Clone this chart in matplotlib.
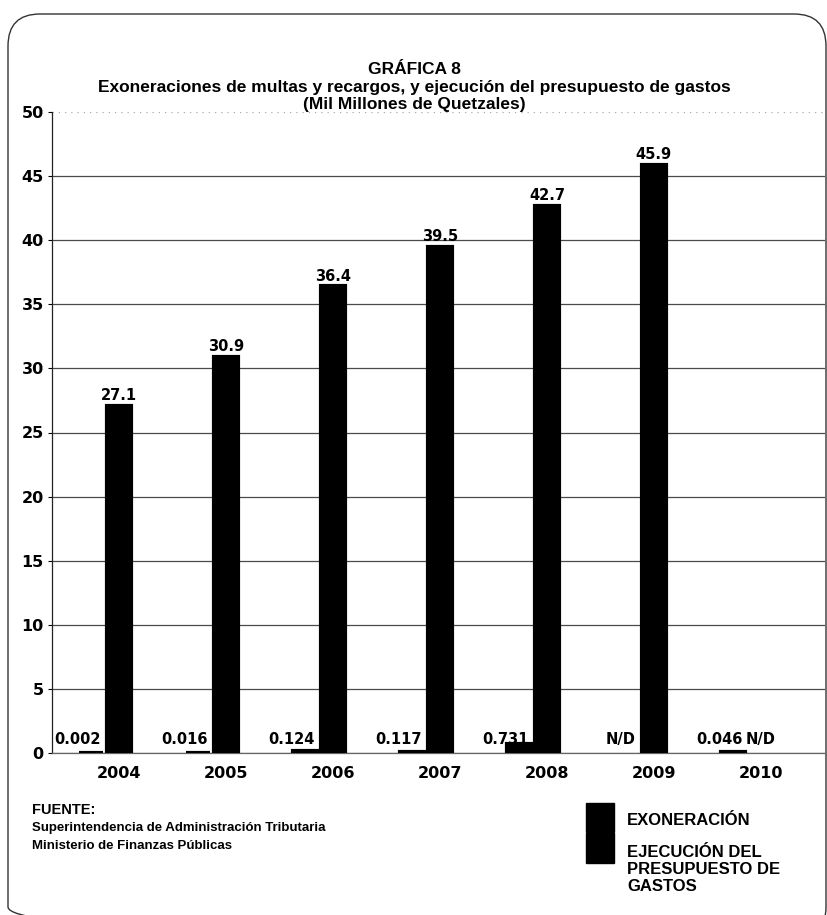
import matplotlib.pyplot as plt
from matplotlib.patches import FancyBboxPatch, Rectangle
import numpy as np

# Datos (mil millones de quetzales); None = N/D
years = ['2004', '2005', '2006', '2007', '2008', '2009', '2010']
exoneracion = [0.002, 0.016, 0.124, 0.117, 0.731, None, 0.046]
ejecucion = [27.1, 30.9, 36.4, 39.5, 42.7, 45.9, None]
yticks = [0, 5, 10, 15, 20, 25, 30, 35, 40, 45, 50]

titulo = ['GRÁFICA 8',
          'Exoneraciones de multas y recargos, y ejecución del presupuesto de gastos',
          '(Mil Millones de Quetzales)']
fuente = ['FUENTE:',
          'Superintendencia de Administración Tributaria',
          'Ministerio de Finanzas Públicas']
leyenda = ['EXONERACIÓN', 'EJECUCIÓN DEL\nPRESUPUESTO DE\nGASTOS']

SANS = 'Liberation Sans'
NUM = 'DejaVu Sans'

W, H = 828, 915
fig = plt.figure(figsize=(W / 100, H / 100), dpi=100)
fig.patch.set_facecolor('white')

# area del grafico en pixeles: x 52..825, y 112..753
ax = fig.add_axes([52 / W, 1 - 753 / H, (825 - 52) / W, (753 - 112) / H])

x = np.arange(len(years))
bw = 0.262      # ancho visible de cada barra
lw = 3.0        # borde negro, deja ver las barras casi nulas
edge = lw / 72 * 100 / 106.8   # grosor del borde en unidades de x

ix = [i for i, v in enumerate(exoneracion) if v is not None]
ax.bar(x[ix] - bw, [exoneracion[i] for i in ix], width=bw - edge,
       color='black', edgecolor='black', linewidth=lw, zorder=3)
ie = [i for i, v in enumerate(ejecucion) if v is not None]
ax.bar(x[ie], [ejecucion[i] for i in ie], width=bw - edge,
       color='black', edgecolor='black', linewidth=lw, zorder=3)

# etiquetas de valor
for i in range(len(years)):
    v = exoneracion[i]
    txt = 'N/D' if v is None else f'{v:.3f}'
    ax.annotate(txt, (x[i] - bw / 2 - 0.04, 0), xytext=(0, 4),
                textcoords='offset points', ha='right', va='bottom',
                fontsize=10.5, fontweight='bold', family=NUM, zorder=4)
    v = ejecucion[i]
    txt = 'N/D' if v is None else f'{v:.1f}'
    yv = 0 if v is None else v
    ax.annotate(txt, (x[i], yv), xytext=(0, 4 if v is None else 2),
                textcoords='offset points', ha='center', va='bottom',
                fontsize=10.5, fontweight='bold', family=NUM, zorder=4)

ax.set_xlim(-0.63, 6.6)
ax.set_ylim(0, 50)
ax.set_yticks(yticks)
ax.set_yticklabels([str(t) for t in yticks], fontsize=11.5,
                   fontweight='bold', family=NUM)
ax.set_xticks(x)
ax.set_xticklabels(years, fontsize=11.5, fontweight='bold', family=NUM)
ax.tick_params(axis='y', direction='out', length=3, width=0.8, pad=3)
ax.tick_params(axis='x', length=0, pad=9)

ax.yaxis.grid(True, color='#4a4a4a', linewidth=0.9)
ax.set_axisbelow(True)
gl = ax.get_ygridlines()
gl[-1].set_color('#aaaaaa')
gl[-1].set_linestyle((0, (1, 4)))

for s in ['top', 'right']:
    ax.spines[s].set_visible(False)
ax.spines['left'].set_color('#222222')
ax.spines['left'].set_linewidth(0.9)
ax.spines['bottom'].set_color('#666666')
ax.spines['bottom'].set_linewidth(0.9)

# capa en pixeles para marco, titulo, fuente y leyenda
ov = fig.add_axes([0, 0, 1, 1], zorder=-1)
ov.set_xlim(0, W)
ov.set_ylim(H, 0)
ov.axis('off')

ov.add_patch(FancyBboxPatch((8, 14), 818, 925, boxstyle='round,pad=0,rounding_size=32',
                            fill=False, edgecolor='#333333', linewidth=1.0))

for k, (line, yb) in enumerate(zip(titulo, [74, 92, 109])):
    ov.text(414, yb, line, ha='center', va='baseline', fontsize=12.5,
            fontweight='bold', family=SANS)

for k, line in enumerate(fuente):
    ov.text(32, 814 + 17.5 * k, line, ha='left', va='baseline',
            fontsize=10.5 if k == 0 else 9.5, fontweight='bold', family=SANS)

ov.add_patch(Rectangle((586, 803), 28, 29, color='black'))
ov.add_patch(Rectangle((586, 833), 28, 30, color='black'))
ov.text(627, 825, leyenda[0], ha='left', va='baseline', fontsize=12,
        fontweight='bold', family=SANS)
ov.text(627, 845, leyenda[1], ha='left', va='top', fontsize=12,
        fontweight='bold', family=SANS, linespacing=1.15)

fig.savefig('out.png', dpi=100)
